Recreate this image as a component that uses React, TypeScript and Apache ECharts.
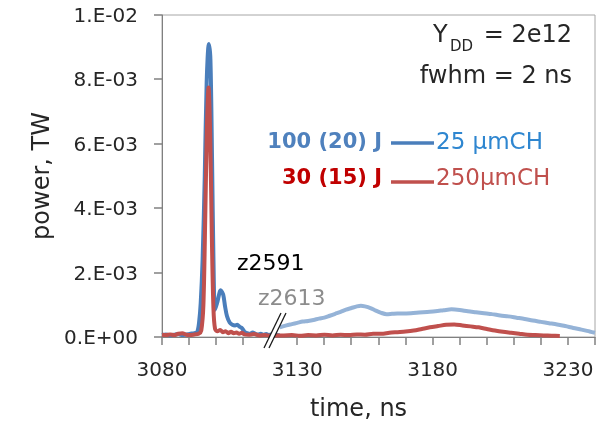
import { useEffect, useRef } from "react";
import * as echarts from "echarts";

// ---- data (time in ns, power in TW) ----
const yTickLabels = ["0.E+00", "2.E-03", "4.E-03", "6.E-03", "8.E-03", "1.E-02"];
const yTickValues = [0, 0.002, 0.004, 0.006, 0.008, 0.01];
const xTickLabels = ["3080", "3130", "3180", "3230"];
const xTickValues = [3080, 3090, 3100, 3110, 3120, 3130, 3140, 3150, 3160, 3170, 3180, 3190, 3200, 3210, 3220, 3230, 3240];

// z2591, 100 (20) J, 25 µmCH (dark blue)
const blueT = [3080, 3081.5, 3083, 3084.5, 3086, 3087.5, 3089, 3090.5, 3092, 3093, 3093.7, 3094.3, 3095, 3095.8, 3096.5, 3097.3, 3097.9, 3098.5, 3099, 3099.6, 3100.5, 3101.7, 3102.6, 3103.3, 3104, 3105, 3106, 3107, 3107.8, 3108.6, 3109.5, 3110.5, 3111.5, 3112.5, 3113.5, 3114.5, 3115.5, 3116.5, 3117.5, 3118.5, 3119.5, 3120.5, 3121.5, 3122.5, 3123.5];
const blueP = [0.06, 0.08, 0.05, 0.07, 0.09, 0.06, 0.08, 0.1, 0.12, 0.15, 0.45, 1.05, 2.4, 5.0, 7.9, 9.1, 8.6, 5.5, 2.5, 0.85, 1.1, 1.45, 1.32, 0.95, 0.65, 0.45, 0.38, 0.36, 0.38, 0.32, 0.28, 0.16, 0.12, 0.1, 0.14, 0.1, 0.08, 0.1, 0.07, 0.09, 0.06, 0.08, 0.05, 0.06, 0.05];

// z2613 continuation (light blue)
const lightT = [3123.5, 3126, 3128, 3130, 3132, 3134, 3136, 3138, 3140, 3142, 3144, 3146, 3148, 3150, 3152, 3153.5, 3155, 3157, 3159, 3161, 3163, 3165, 3167, 3169, 3172, 3175, 3178, 3181, 3184, 3187, 3190, 3193, 3196, 3199, 3202, 3205, 3208, 3211, 3214, 3217, 3220, 3223, 3226, 3229, 3232, 3235, 3238, 3240];
const lightP = [0.3, 0.36, 0.4, 0.44, 0.48, 0.5, 0.53, 0.57, 0.6, 0.66, 0.72, 0.78, 0.85, 0.9, 0.95, 0.97, 0.95, 0.9, 0.82, 0.75, 0.71, 0.72, 0.73, 0.73, 0.74, 0.76, 0.78, 0.8, 0.83, 0.86, 0.84, 0.8, 0.77, 0.74, 0.71, 0.67, 0.64, 0.6, 0.56, 0.51, 0.47, 0.43, 0.39, 0.34, 0.28, 0.23, 0.17, 0.13];

// 30 (15) J, 250 µmCH (red)
const redT = [3080, 3081.5, 3083, 3084.5, 3086, 3087.5, 3089, 3090.5, 3092, 3093.5, 3094.5, 3095.3, 3096, 3096.6, 3097.2, 3097.8, 3098.4, 3099, 3099.6, 3100.5, 3101.5, 3102.5, 3103.5, 3104.5, 3105.5, 3106.5, 3107.5, 3108.5, 3109.5, 3110.5, 3112, 3114, 3116, 3118, 3120, 3122, 3125, 3128, 3131, 3134, 3137, 3140, 3143, 3146, 3149, 3152, 3155, 3158, 3161, 3164, 3167, 3170, 3173, 3176, 3179, 3182, 3185, 3188, 3191, 3194, 3197, 3200, 3203, 3206, 3209, 3212, 3215, 3218, 3221, 3224, 3227];
const redP = [0.07, 0.06, 0.08, 0.06, 0.1, 0.12, 0.07, 0.06, 0.08, 0.1, 0.2, 1.0, 3.8, 6.5, 7.75, 6.3, 3.2, 0.9, 0.25, 0.18, 0.22, 0.15, 0.18, 0.12, 0.16, 0.12, 0.14, 0.1, 0.13, 0.08, 0.07, 0.09, 0.05, 0.06, 0.04, 0.05, 0.05, 0.06, 0.04, 0.06, 0.05, 0.07, 0.05, 0.07, 0.06, 0.08, 0.07, 0.1, 0.1, 0.13, 0.15, 0.17, 0.2, 0.25, 0.3, 0.34, 0.38, 0.39, 0.36, 0.33, 0.3, 0.25, 0.2, 0.16, 0.13, 0.1, 0.07, 0.06, 0.05, 0.04, 0.03];

const FONT = "DejaVu Sans";
const pairs = (t: number[], p: number[]) => t.map((x, i) => [x, p[i] * 1e-3]);
const AXIS_GRAY = "#808080";
const TICK_LEN = 8;

export default function App() {
  const ref = useRef<HTMLDivElement>(null);
  useEffect(() => {
    if (!ref.current) return;
    const chart = echarts.init(ref.current, undefined, { renderer: "svg" });
    const borderGray = "#a6a6a6";
    const baseGraphic: any[] = [
      { type: "text", x: 433, y: 34, z: 100, style: { text: "Y", fontFamily: FONT, fontSize: 24, fill: "#262626", align: "left", verticalAlign: "middle" } },
      { type: "text", x: 450, y: 46, z: 100, style: { text: "DD", fontFamily: FONT, fontSize: 15, fill: "#262626", align: "left", verticalAlign: "middle" } },
      { type: "text", x: 572, y: 34, z: 100, style: { text: "= 2e12", fontFamily: FONT, fontSize: 24, fill: "#262626", align: "right", verticalAlign: "middle" } },
      { type: "text", x: 572, y: 75, z: 100, style: { text: "fwhm = 2 ns", fontFamily: FONT, fontSize: 24, fill: "#262626", align: "right", verticalAlign: "middle" } },
      { type: "text", x: 382, y: 141, z: 100, style: { text: "100 (20) J", fontFamily: FONT, fontSize: 21, fontWeight: "bold", fill: "#4f81bd", align: "right", verticalAlign: "middle" } },
      { type: "line", z: 100, shape: { x1: 391, y1: 143, x2: 434, y2: 143 }, style: { stroke: "#4a7ebb", lineWidth: 3.5 } },
      { type: "text", x: 436, y: 141, z: 100, style: { text: "25 µmCH", fontFamily: FONT, fontSize: 23, fill: "#2e86d0", align: "left", verticalAlign: "middle" } },
      { type: "text", x: 382, y: 177, z: 100, style: { text: "30 (15) J", fontFamily: FONT, fontSize: 21, fontWeight: "bold", fill: "#c00000", align: "right", verticalAlign: "middle" } },
      { type: "line", z: 100, shape: { x1: 391, y1: 182, x2: 434, y2: 182 }, style: { stroke: "#c0504d", lineWidth: 3.5 } },
      { type: "text", x: 436, y: 177, z: 100, style: { text: "250µmCH", fontFamily: FONT, fontSize: 23, fill: "#c0504d", align: "left", verticalAlign: "middle" } },
      { type: "text", x: 237, y: 262, z: 100, style: { text: "z2591", fontFamily: FONT, fontSize: 22, fill: "#000000", align: "left", verticalAlign: "middle" } },
      { type: "text", x: 258, y: 297, z: 100, style: { text: "z2613", fontFamily: FONT, fontSize: 22, fill: "#8c8c8c", align: "left", verticalAlign: "middle" } },
      { type: "polygon", z: 100, shape: { points: [[264, 348], [281, 313], [286, 313], [269, 348]] }, style: { fill: "#ffffff", stroke: "none" } },
      { type: "line", z: 101, shape: { x1: 264, y1: 348, x2: 281, y2: 313 }, style: { stroke: "#1a1a1a", lineWidth: 1.3 } },
      { type: "line", z: 101, shape: { x1: 269, y1: 348, x2: 286, y2: 313 }, style: { stroke: "#1a1a1a", lineWidth: 1.3 } },
    ];
    chart.setOption({
      animation: false,
      grid: { left: 162, right: 13, top: 15, bottom: 86, outerBoundsMode: "none", show: true, borderColor: borderGray, borderWidth: 1 },
      xAxis: {
        type: "value",
        min: 3080,
        max: 3240,
        interval: 10,
        name: "time, ns",
        nameLocation: "middle",
        nameGap: 59,
        nameTextStyle: { fontFamily: FONT, fontSize: 24, color: "#262626", padding: [0, 40, 0, 0] },
        axisLine: { show: true, lineStyle: { color: AXIS_GRAY } },
        axisTick: { show: false },
        splitLine: { show: false },
        axisLabel: {
          margin: 22,
          fontFamily: FONT,
          fontSize: 20,
          color: "#262626",
          formatter: (v: number) => (xTickLabels.includes(String(v)) ? String(v) : ""),
        },
      },
      yAxis: {
        type: "value",
        min: 0,
        max: 0.01,
        interval: 0.002,
        name: "power, TW",
        nameLocation: "middle",
        nameGap: 108,
        nameRotate: 90,
        nameTextStyle: { fontFamily: FONT, fontSize: 24, color: "#262626" },
        axisLine: { show: true, lineStyle: { color: AXIS_GRAY } },
        axisTick: { show: false },
        splitLine: { show: false },
        axisLabel: {
          margin: 24,
          fontFamily: FONT,
          fontSize: 20,
          color: "#262626",
          formatter: (v: number) => yTickLabels[Math.round(v / 0.002)] ?? "",
        },
      },
      series: [
        { type: "line", name: "z2591", data: pairs(blueT, blueP), showSymbol: false, smooth: 0.3, lineStyle: { color: "#4a7ebb", width: 4 } },
        { type: "line", name: "z2613", data: pairs(lightT, lightP), showSymbol: false, smooth: 0.3, lineStyle: { color: "#95b3d7", width: 4 } },
        { type: "line", name: "250umCH", data: pairs(redT, redP), showSymbol: false, smooth: 0.3, lineStyle: { color: "#c0504d", width: 4 } },
      ],
      graphic: baseGraphic,
    });

    // tick marks placed through the chart's own scales
    const tickLines: any[] = [];
    xTickValues.forEach((v) => {
      const c = chart.convertToPixel({ gridIndex: 0 }, [v, 0]) as number[];
      if (!c) return;
      const x = Math.round(c[0]);
      tickLines.push({ type: "line", z: 50, silent: true, shape: { x1: x, y1: c[1], x2: x, y2: c[1] + TICK_LEN }, style: { stroke: AXIS_GRAY, lineWidth: 1.5 } });
    });
    yTickValues.forEach((v) => {
      const c = chart.convertToPixel({ gridIndex: 0 }, [3080, v]) as number[];
      if (!c) return;
      const y = Math.round(c[1]);
      tickLines.push({ type: "line", z: 50, silent: true, shape: { x1: c[0] - TICK_LEN, y1: y, x2: c[0], y2: y }, style: { stroke: AXIS_GRAY, lineWidth: 1.5 } });
    });
    chart.setOption({ graphic: [...baseGraphic, ...tickLines] });

    return () => chart.dispose();
  }, []);
  return <div ref={ref} style={{ position: "fixed", left: 0, top: 0, width: 608, height: 423 }} />;
}
